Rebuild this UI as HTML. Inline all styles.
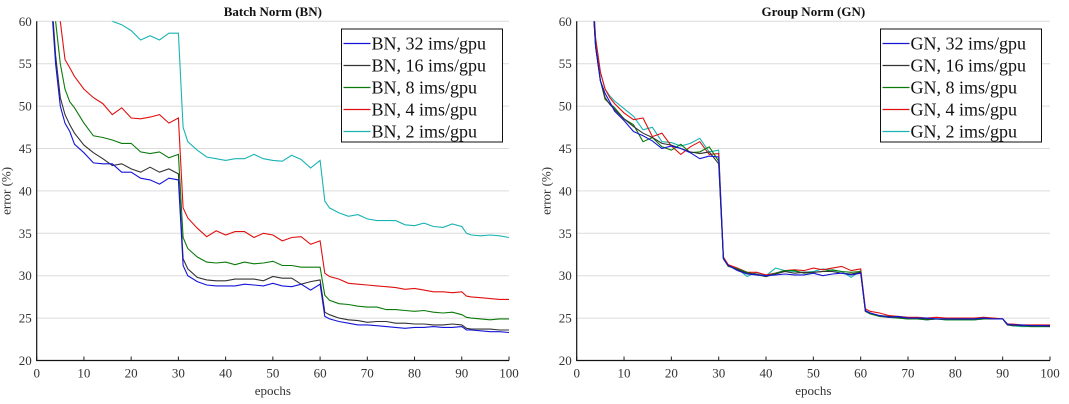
<!DOCTYPE html>
<html><head><meta charset="utf-8"><style>
html,body{margin:0;padding:0;background:#fff;}
svg{display:block;}
svg text{font-family:"Liberation Serif","DejaVu Serif",serif;}
</style></head><body>
<svg id="chart" width="1069" height="404" viewBox="0 0 1069 404" xmlns="http://www.w3.org/2000/svg"></svg>
<script>
const epochs=[1,2,3,4,5,6,7,8,10,12,14,16,18,20,22,24,26,28,30,31,32,34,36,38,40,42,44,46,48,50,52,54,56,58,60,61,62,64,66,68,70,72,74,76,78,80,82,84,86,88,90,91,92,94,96,98,100];
const yTicks=[20,25,30,35,40,45,50,55,60];
const xTicks=[0,10,20,30,40,50,60,70,80,90,100];
const bnLabels=["BN, 32 ims/gpu","BN, 16 ims/gpu","BN, 8 ims/gpu","BN, 4 ims/gpu","BN, 2 ims/gpu"];
const gnLabels=["GN, 32 ims/gpu","GN, 16 ims/gpu","GN, 8 ims/gpu","GN, 4 ims/gpu","GN, 2 ims/gpu"];
const bn32=[90,75,63,55,50,48,47,45.5,44.5,43.3,43.2,43.2,42.2,42.2,41.5,41.3,40.8,41.5,41.3,31.2,30,29.3,28.9,28.8,28.8,28.8,29,28.9,28.8,29.1,28.8,28.7,29,28.3,29,25.2,24.9,24.6,24.4,24.2,24.2,24.1,24,23.9,23.8,23.9,23.9,24,23.9,23.9,24,23.6,23.6,23.5,23.4,23.4,23.3];
const bn16=[90,76,64,56,51,49,47.8,46.8,45.4,44.5,43.8,43,43.2,42.6,42.2,42.8,42.2,42.6,42,32,30.8,29.8,29.5,29.4,29.4,29.6,29.6,29.6,29.4,29.9,29.7,29.7,29,29.3,29.5,25.7,25.4,25,24.8,24.7,24.5,24.6,24.6,24.4,24.4,24.3,24.3,24.2,24.2,24.3,24.2,23.8,23.7,23.7,23.7,23.6,23.6];
const bn8=[95,80,68,60,55,52,50.5,49.8,48,46.5,46.3,46,45.6,45.6,44.6,44.4,44.6,43.9,44.3,34.5,33.2,32.2,31.6,31.5,31.6,31.3,31.6,31.4,31.5,31.7,31.2,31.2,31,31,31,27.7,27.1,26.7,26.6,26.4,26.3,26.3,26,26,25.9,25.8,25.9,25.7,25.6,25.7,25.4,25.1,25,24.9,24.8,24.9,24.9];
const bn4=[100,90,78,66,60,55.5,54.5,53.5,52,51,50.3,49,49.8,48.6,48.5,48.7,49,48,48.6,38,36.8,35.6,34.6,35.3,34.8,35.2,35.2,34.5,35,34.8,34.1,34.5,34.6,33.7,34.1,30.3,29.9,29.6,29.1,29,28.9,28.8,28.7,28.6,28.4,28.5,28.3,28.1,28.1,28,28.1,27.6,27.5,27.4,27.3,27.2,27.2];
const bn2=[120,110,100,92,86,82,78,75,70,66,62,60,59.6,58.9,57.8,58.3,57.8,58.6,58.6,47.5,45.8,44.8,44,43.8,43.6,43.8,43.8,44.3,43.8,43.6,43.5,44.2,43.7,42.7,43.6,38.8,38,37.4,37,37.2,36.7,36.5,36.5,36.5,36,35.9,36.2,35.8,35.7,36.1,35.8,35,34.8,34.7,34.8,34.7,34.5];
const gn32=[100,80,66,57,53,51.5,50.5,49.4,48.3,47,46.5,45.9,45,45.3,45,44.5,43.8,44.1,44,32,31.2,30.6,30.2,30.1,30,30.1,30.2,30.1,30.1,30.3,30,30.2,30.3,30.1,30.3,25.9,25.6,25.3,25.1,25.2,25,25,25,24.9,24.9,24.9,24.9,24.9,25,24.9,24.9,24.3,24.2,24.2,24.1,24.1,24.1];
const gn16=[100,80,66,57,53,51,50.2,49.6,48.5,47.6,46.8,46.3,45.6,45.4,45,44.6,44.4,44.6,43.2,32,31.2,30.7,30.3,30.2,29.9,30.2,30.5,30.3,30.4,30.4,30.5,30.5,30.3,30.2,30.4,25.8,25.6,25.3,25.2,25.1,25,25,24.9,24.9,24.9,24.9,24.9,24.9,25,24.9,24.9,24.2,24.2,24.1,24.1,24.1,24];
const gn8=[100,80,66,57,53,50.8,50.3,49.8,48.5,47.8,45.8,46.3,45.2,44.8,45.5,44.5,44.6,45.2,43.5,32,31.1,30.8,30.4,30.1,29.9,30.3,30.6,30.6,30.3,30.4,30.5,30.7,30.5,30.4,30.5,25.8,25.5,25.2,25.1,25,24.9,24.9,24.8,24.9,24.8,24.8,24.8,24.8,24.9,24.9,24.9,24.2,24.1,24.1,24,24,24];
const gn4=[100,81,67,58,54,52,51,50.3,49.2,48.4,48.6,46.4,46.8,45.3,44.3,45.2,45.8,44.3,44.4,32.2,31.3,30.9,30.4,30.4,30.1,30.3,30.6,30.7,30.6,30.9,30.7,30.9,31.1,30.6,30.8,26.1,25.8,25.6,25.3,25.2,25.1,25.1,25,25.1,25,25,25,25,25.1,25,24.9,24.3,24.3,24.2,24.2,24.2,24.2];
const gn2=[101,81,67,58,54,52,51.2,50.6,49.7,48.8,47.2,47.5,45.8,45.7,45.3,45.6,46.2,44.6,44.8,32.1,31.2,30.8,29.9,30.4,30,30.9,30.6,30.5,30.4,30.5,30.8,30.6,30.5,29.8,30.6,25.8,25.5,25.3,25.1,25,24.9,24.9,24.8,24.9,24.8,24.8,24.8,24.8,24.9,24.9,24.9,24.2,24.1,24,24,24,24];
const colors=["#1414d8","#333333","#0b7a0b","#e01010","#1ab3b3"];
const NS="http://www.w3.org/2000/svg";
const FONT='"Liberation Serif","DejaVu Serif",serif';
const svg=document.getElementById('chart');
function mk(tag,attrs,parent){const e=document.createElementNS(NS,tag);for(const k in attrs)e.setAttribute(k,attrs[k]);if(tag==='text')e.setAttribute('font-family',FONT);(parent||svg).appendChild(e);return e;}
function panel(id,x0,x1,title,series,labels,legX){
  const y0=21.3,y1=360.5;
  const sx=v=>x0+(x1-x0)*v/100;
  const sy=v=>y1-(y1-y0)*(v-20)/40;
  const g=mk('g',{});
  
  
  const cp=mk('clipPath',{id:id+'clip'},g);
  mk('rect',{x:x0,y:y0,width:x1-x0,height:y1-y0},cp);
  yTicks.forEach(t=>{
    if(t>20){const l=mk('line',{x1:x0,x2:x1,y1:sy(t),y2:sy(t),stroke:'#dcdcdc','stroke-width':1},g);
    
    }
    const tx=mk('text',{x:x0-5,y:sy(t)+4.5,'text-anchor':'end','font-size':13,fill:'#333'},g);
    tx.textContent=t;
    
    
  });
  xTicks.forEach(t=>{
    mk('line',{x1:sx(t),x2:sx(t),y1:y1,y2:y1-4,stroke:'#222','stroke-width':1},g);
    const tx=mk('text',{x:sx(t),y:y1+17,'text-anchor':'middle','font-size':13,fill:'#333'},g);
    tx.textContent=t;
    
    
  });
  mk('path',{d:`M${x0} ${y0}V${y1}H${x1}`,fill:'none',stroke:'#111','stroke-width':1.2},g);
  const ti=mk('text',{x:(x0+x1)/2,y:16,'text-anchor':'middle','font-size':13,'font-weight':'bold',fill:'#111'},g);
  ti.textContent=title;
  
  
  const xl=mk('text',{x:(x0+x1)/2,y:395,'text-anchor':'middle','font-size':13,fill:'#333'},g);
  xl.textContent='epochs';
  
  
  const yl=mk('text',{x:0,y:0,'text-anchor':'middle','font-size':13,fill:'#333',transform:`translate(${x0-26},${(y0+y1)/2}) rotate(-90)`},g);
  yl.textContent='error (%)';
  
  
  const lg=mk('g',{'clip-path':`url(#${id}clip)`},g);
  series.slice().reverse().forEach((s,ri)=>{
    const i=series.length-1-ri;
    const d=s.map((v,k)=>(k?'L':'M')+sx(epochs[k]).toFixed(1)+' '+sy(v).toFixed(1)).join('');
    const p=mk('path',{d:d,fill:'none',stroke:colors[i],'stroke-width':1.1},lg);
    
    
  });
  const leg=mk('g',{},g);
  
  
  mk('rect',{x:legX,y:29,width:161,height:113,fill:'#fff',stroke:'#111','stroke-width':1},leg);
  labels.forEach((lab,i)=>{
    const yy=43.5+i*22;
    mk('line',{x1:legX+2,x2:legX+29,y1:yy,y2:yy,stroke:colors[i],'stroke-width':1.3},leg);
    const t=mk('text',{x:legX+30,y:yy+6,'font-size':18,fill:'#111'},leg);
    t.textContent=lab;
    
    
  });
}
panel('bn',36.7,509,'Batch Norm (BN)',[bn32,bn16,bn8,bn4,bn2],bnLabels,341.5);
panel('gn',576.7,1050,'Group Norm (GN)',[gn32,gn16,gn8,gn4,gn2],gnLabels,880.5);
</script>
</body></html>
